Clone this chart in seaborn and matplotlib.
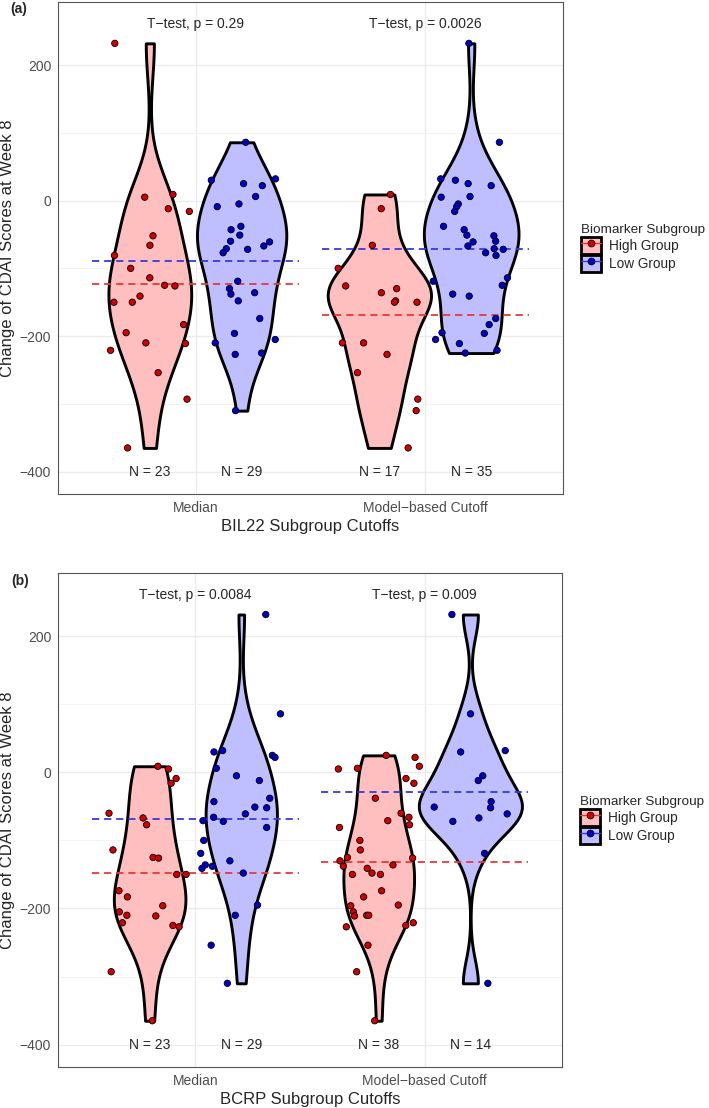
import numpy as np
import pandas as pd
import seaborn as sns
import matplotlib.pyplot as plt
from matplotlib.patches import Patch
from matplotlib.lines import Line2D
from matplotlib.ticker import MultipleLocator

# change of CDAI score at week 8, split by biomarker subgroup cutoff
cutoffs = ["Median", "Model\u2212based Cutoff"]
groups = ["High Group", "Low Group"]

bil22_median_high = [232, 9, 5, -12, -16, -52, -66, -81, -100, -114, -125, -126, -141, -150,
                     -150, -183, -195, -210, -211, -221, -254, -293, -365]
bil22_median_low = [86, 32, 30, 25, 22, 6, -5, -9, -38, -43, -51, -60, -61, -67, -71, -72, -77,
                    -119, -130, -136, -138, -148, -174, -196, -205, -210, -225, -227, -310]
bil22_model_high = [9, -12, -66, -100, -126, -130, -136, -148, -150, -150, -210, -210, -227,
                    -254, -293, -310, -365]
bil22_model_low = [232, 86, 32, 30, 25, 22, 6, 5, -5, -9, -16, -38, -43, -51, -52, -60, -61, -67,
                   -71, -72, -77, -81, -114, -119, -125, -138, -141, -174, -183, -195, -196, -205,
                   -211, -221, -225]

bcrp_median_high = [9, 5, -9, -16, -60, -67, -77, -114, -125, -126, -150, -150, -174, -183, -196,
                    -205, -210, -211, -221, -225, -227, -293, -365]
bcrp_median_low = [232, 86, 32, 30, 25, 22, 6, -5, -12, -38, -43, -51, -52, -61, -66, -71, -72,
                   -81, -100, -119, -130, -136, -138, -141, -148, -195, -210, -254, -310]
bcrp_model_high = [25, 22, 9, 6, 5, -9, -16, -38, -60, -66, -71, -77, -81, -100, -114, -125, -126,
                   -130, -136, -138, -141, -148, -150, -150, -174, -183, -195, -196, -205, -210,
                   -210, -211, -221, -225, -227, -254, -293, -365]
bcrp_model_low = [232, 86, 32, 30, -5, -12, -43, -51, -52, -61, -67, -72, -119, -310]

bil22_pvals = ["0.29", "0.0026"]
bcrp_pvals = ["0.0084", "0.009"]

fill_pal = {"High Group": "#FFBFBF", "Low Group": "#BFBFFF"}
point_pal = {"High Group": "#D40000", "Low Group": "#0000CD"}
line_pal = {"High Group": "#E83838", "Low Group": "#3838E0"}


def nrd0(kde):
    # R's default bandwidth (what ggplot uses for violins)
    x = np.asarray(kde.dataset).ravel()
    sd = x.std(ddof=1)
    iqr = np.subtract(*np.percentile(x, [75, 25]))
    return 0.9 * min(sd, iqr / 1.34) * len(x) ** -0.2 / sd


def draw_panel(ax, split, pvals, xlabel):
    rows = []
    for cut, (high, low) in zip(cutoffs, split):
        rows += [(cut, "High Group", v) for v in high]
        rows += [(cut, "Low Group", v) for v in low]
    df = pd.DataFrame(rows, columns=["cutoff", "group", "change"])

    sns.violinplot(data=df, x="cutoff", y="change", hue="group", order=cutoffs,
                   hue_order=groups, palette=fill_pal, saturation=1, cut=0, inner=None,
                   width=0.8, gap=-0.125, linewidth=2.1, linecolor="black",
                   density_norm="area", common_norm=True, bw_method=nrd0,
                   legend=False, ax=ax)

    for i, cut in enumerate(cutoffs):
        for j, g in enumerate(groups):
            vals = df.loc[(df.cutoff == cut) & (df.group == g), "change"]
            ax.hlines(vals.mean(), i - 0.45, i + 0.45, colors=line_pal[g],
                      linestyles=(0, (4, 2.7)), lw=1.3, zorder=2)
            ax.text(i + (j - 0.5) * 0.4, -400, f"N = {len(vals)}", ha="center",
                    va="center", fontsize=10)
        ax.text(i, 260, f"T\u2212test, p = {pvals[i]}", ha="center", va="center", fontsize=10)

    sns.stripplot(data=df, x="cutoff", y="change", hue="group", order=cutoffs,
                  hue_order=groups, palette=point_pal, dodge=True, jitter=0.36,
                  size=4.6, linewidth=0.6, edgecolor="black", legend=False,
                  zorder=3, ax=ax)

    ax.set_xlim(-0.6, 1.6)
    ax.set_ylim(-433, 293)
    ax.set_yticks([-400, -200, 0, 200])
    ax.yaxis.set_minor_locator(MultipleLocator(100))
    ax.tick_params(which="minor", length=0)
    ax.tick_params(which="major", length=2.7, width=0.8, color="#333333",
                   labelcolor="#4D4D4D", labelsize=10, pad=2.2)
    ax.set_axisbelow(True)
    ax.grid(True, which="major", color="#EBEBEB", lw=1.0)
    ax.grid(True, which="minor", axis="y", color="#F3F3F3", lw=0.7)
    for s in ax.spines.values():
        s.set_color("#555555")
        s.set_linewidth(0.8)
    ax.set_xlabel(xlabel, fontsize=12, labelpad=3)
    ax.set_ylabel("Change of CDAI Scores at Week 8", fontsize=12, labelpad=3.5)

    handles = [(Patch(facecolor=fill_pal[g], edgecolor="black", linewidth=2),
                Line2D([], [], color=line_pal[g], lw=1, marker="o", markersize=5,
                       markerfacecolor=point_pal[g], markeredgecolor="black",
                       markeredgewidth=0.5))
               for g in groups]
    ax.legend(handles, groups, title="Biomarker Subgroup", loc="center left",
              bbox_to_anchor=(1.036, 0.5), frameon=False, borderpad=0, borderaxespad=0,
              handlelength=1.45, handleheight=1.6, handletextpad=0.6, labelspacing=0.05,
              alignment="left", fontsize=9.8, title_fontsize=9.7)


sns.set_theme(style="white")
plt.rcParams["font.family"] = ["Liberation Sans", "DejaVu Sans"]
np.random.seed(7)

fig = plt.figure(figsize=(7.09, 11.08), dpi=100)
ax_a = fig.add_axes([58 / 709, 1 - 494 / 1108, 505 / 709, 492 / 1108])
ax_b = fig.add_axes([58 / 709, 1 - 1067 / 1108, 504 / 709, 494 / 1108])

draw_panel(ax_a, [(bil22_median_high, bil22_median_low), (bil22_model_high, bil22_model_low)],
           bil22_pvals, "BIL22 Subgroup Cutoffs")
draw_panel(ax_b, [(bcrp_median_high, bcrp_median_low), (bcrp_model_high, bcrp_model_low)],
           bcrp_pvals, "BCRP Subgroup Cutoffs")

fig.text(10 / 709, 1 - 9 / 1108, "(a)", fontsize=10, weight="bold", va="center")
fig.text(11 / 709, 1 - 581 / 1108, "(b)", fontsize=10, weight="bold", va="center")

fig.savefig("out.png", dpi=100)
